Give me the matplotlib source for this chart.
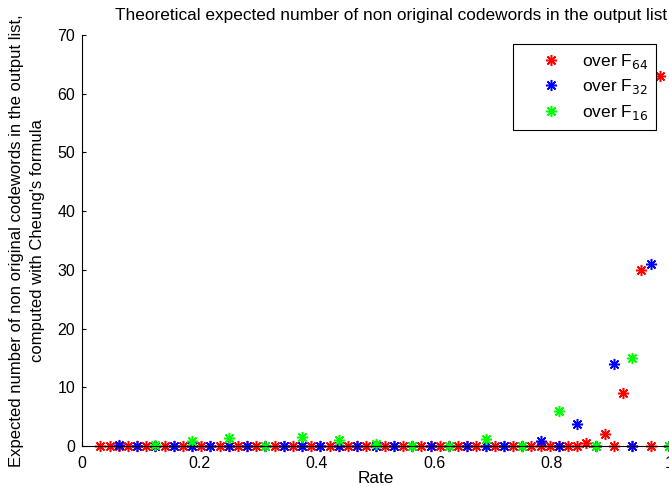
import numpy as np
import matplotlib.pyplot as plt

plt.rcParams['font.family'] = ['Liberation Sans', 'DejaVu Sans']

# Expected number of non original codewords, code length n = q, k = 2..n
k64 = np.arange(2, 65)
k32 = np.arange(2, 33)
k16 = np.arange(2, 17)

# nonzero values per field (everything else is 0)
nz64 = {55: 0.5, 57: 2.0, 59: 9.0, 61: 30.0, 63: 63.0}
nz32 = {2: 0.25, 25: 0.8, 27: 3.8, 29: 14.0, 31: 31.0}
nz16 = {2: 0.15, 3: 0.85, 4: 1.4, 6: 1.6, 7: 1.0, 8: 0.35, 9: 0.05,
        11: 1.2, 13: 6.0, 15: 15.0}

e64 = np.array([nz64.get(k, 0.0) for k in k64])
e32 = np.array([nz32.get(k, 0.0) for k in k32])
e16 = np.array([nz16.get(k, 0.0) for k in k16])

fig = plt.figure(figsize=(6.69, 4.87), dpi=100)
ax = fig.add_axes([82 / 669, 41 / 487, 587 / 669, 411 / 487])

# matlab style '*' marker: 8 spoke asterisk
star = (8, 2, 0)
ax.plot(k64 / 64, e64, ls='none', marker=star, ms=8, mew=1.1, color=(1, 0, 0),
        label='over F$_{64}$', clip_on=False)
ax.plot(k32 / 32, e32, ls='none', marker=star, ms=8, mew=1.1, color=(0, 0, 1),
        label='over F$_{32}$', clip_on=False)
ax.plot(k16 / 16, e16, ls='none', marker=star, ms=8, mew=1.1, color=(0, 1, 0),
        label='over F$_{16}$', clip_on=False)

ax.set_xlim(0, 1)
ax.set_ylim(0, 70)
ax.set_xticks([0, 0.2, 0.4, 0.6, 0.8, 1])
ax.set_xticklabels(['0', '0.2', '0.4', '0.6', '0.8', '1'])
ax.set_yticks(np.arange(0, 71, 10))
ax.tick_params(direction='in', length=3, width=0.8, labelsize=11.5)
ax.tick_params(axis='x', pad=7)
ax.tick_params(axis='y', pad=5)
ax.spines['top'].set_visible(False)
ax.spines['right'].set_visible(False)
ax.spines['left'].set_linewidth(0.8)
ax.spines['bottom'].set_linewidth(0.8)

ax.set_title('Theoretical expected number of non original codewords in the output list',
             fontsize=12.4, pad=11, x=(391 - 82) / 587)
ax.set_xlabel('Rate', fontsize=12.4, labelpad=0)
ax.set_ylabel("Expected number of non original codewords in the output list,\n"
              "computed with Cheung's formula", fontsize=12, linespacing=1.5)
ax.yaxis.set_label_coords((45 - 82) / 587, 0.5)

leg = ax.legend(loc='upper right', bbox_to_anchor=(656 / 669, (487 - 44) / 487),
                bbox_transform=fig.transFigure, borderaxespad=0, fontsize=12.5,
                frameon=True, fancybox=False, edgecolor='black', framealpha=1,
                borderpad=0.45, labelspacing=0.38, handlelength=3.5, handletextpad=0.05)
leg.get_frame().set_linewidth(0.8)

fig.savefig('out.png', dpi=100)
